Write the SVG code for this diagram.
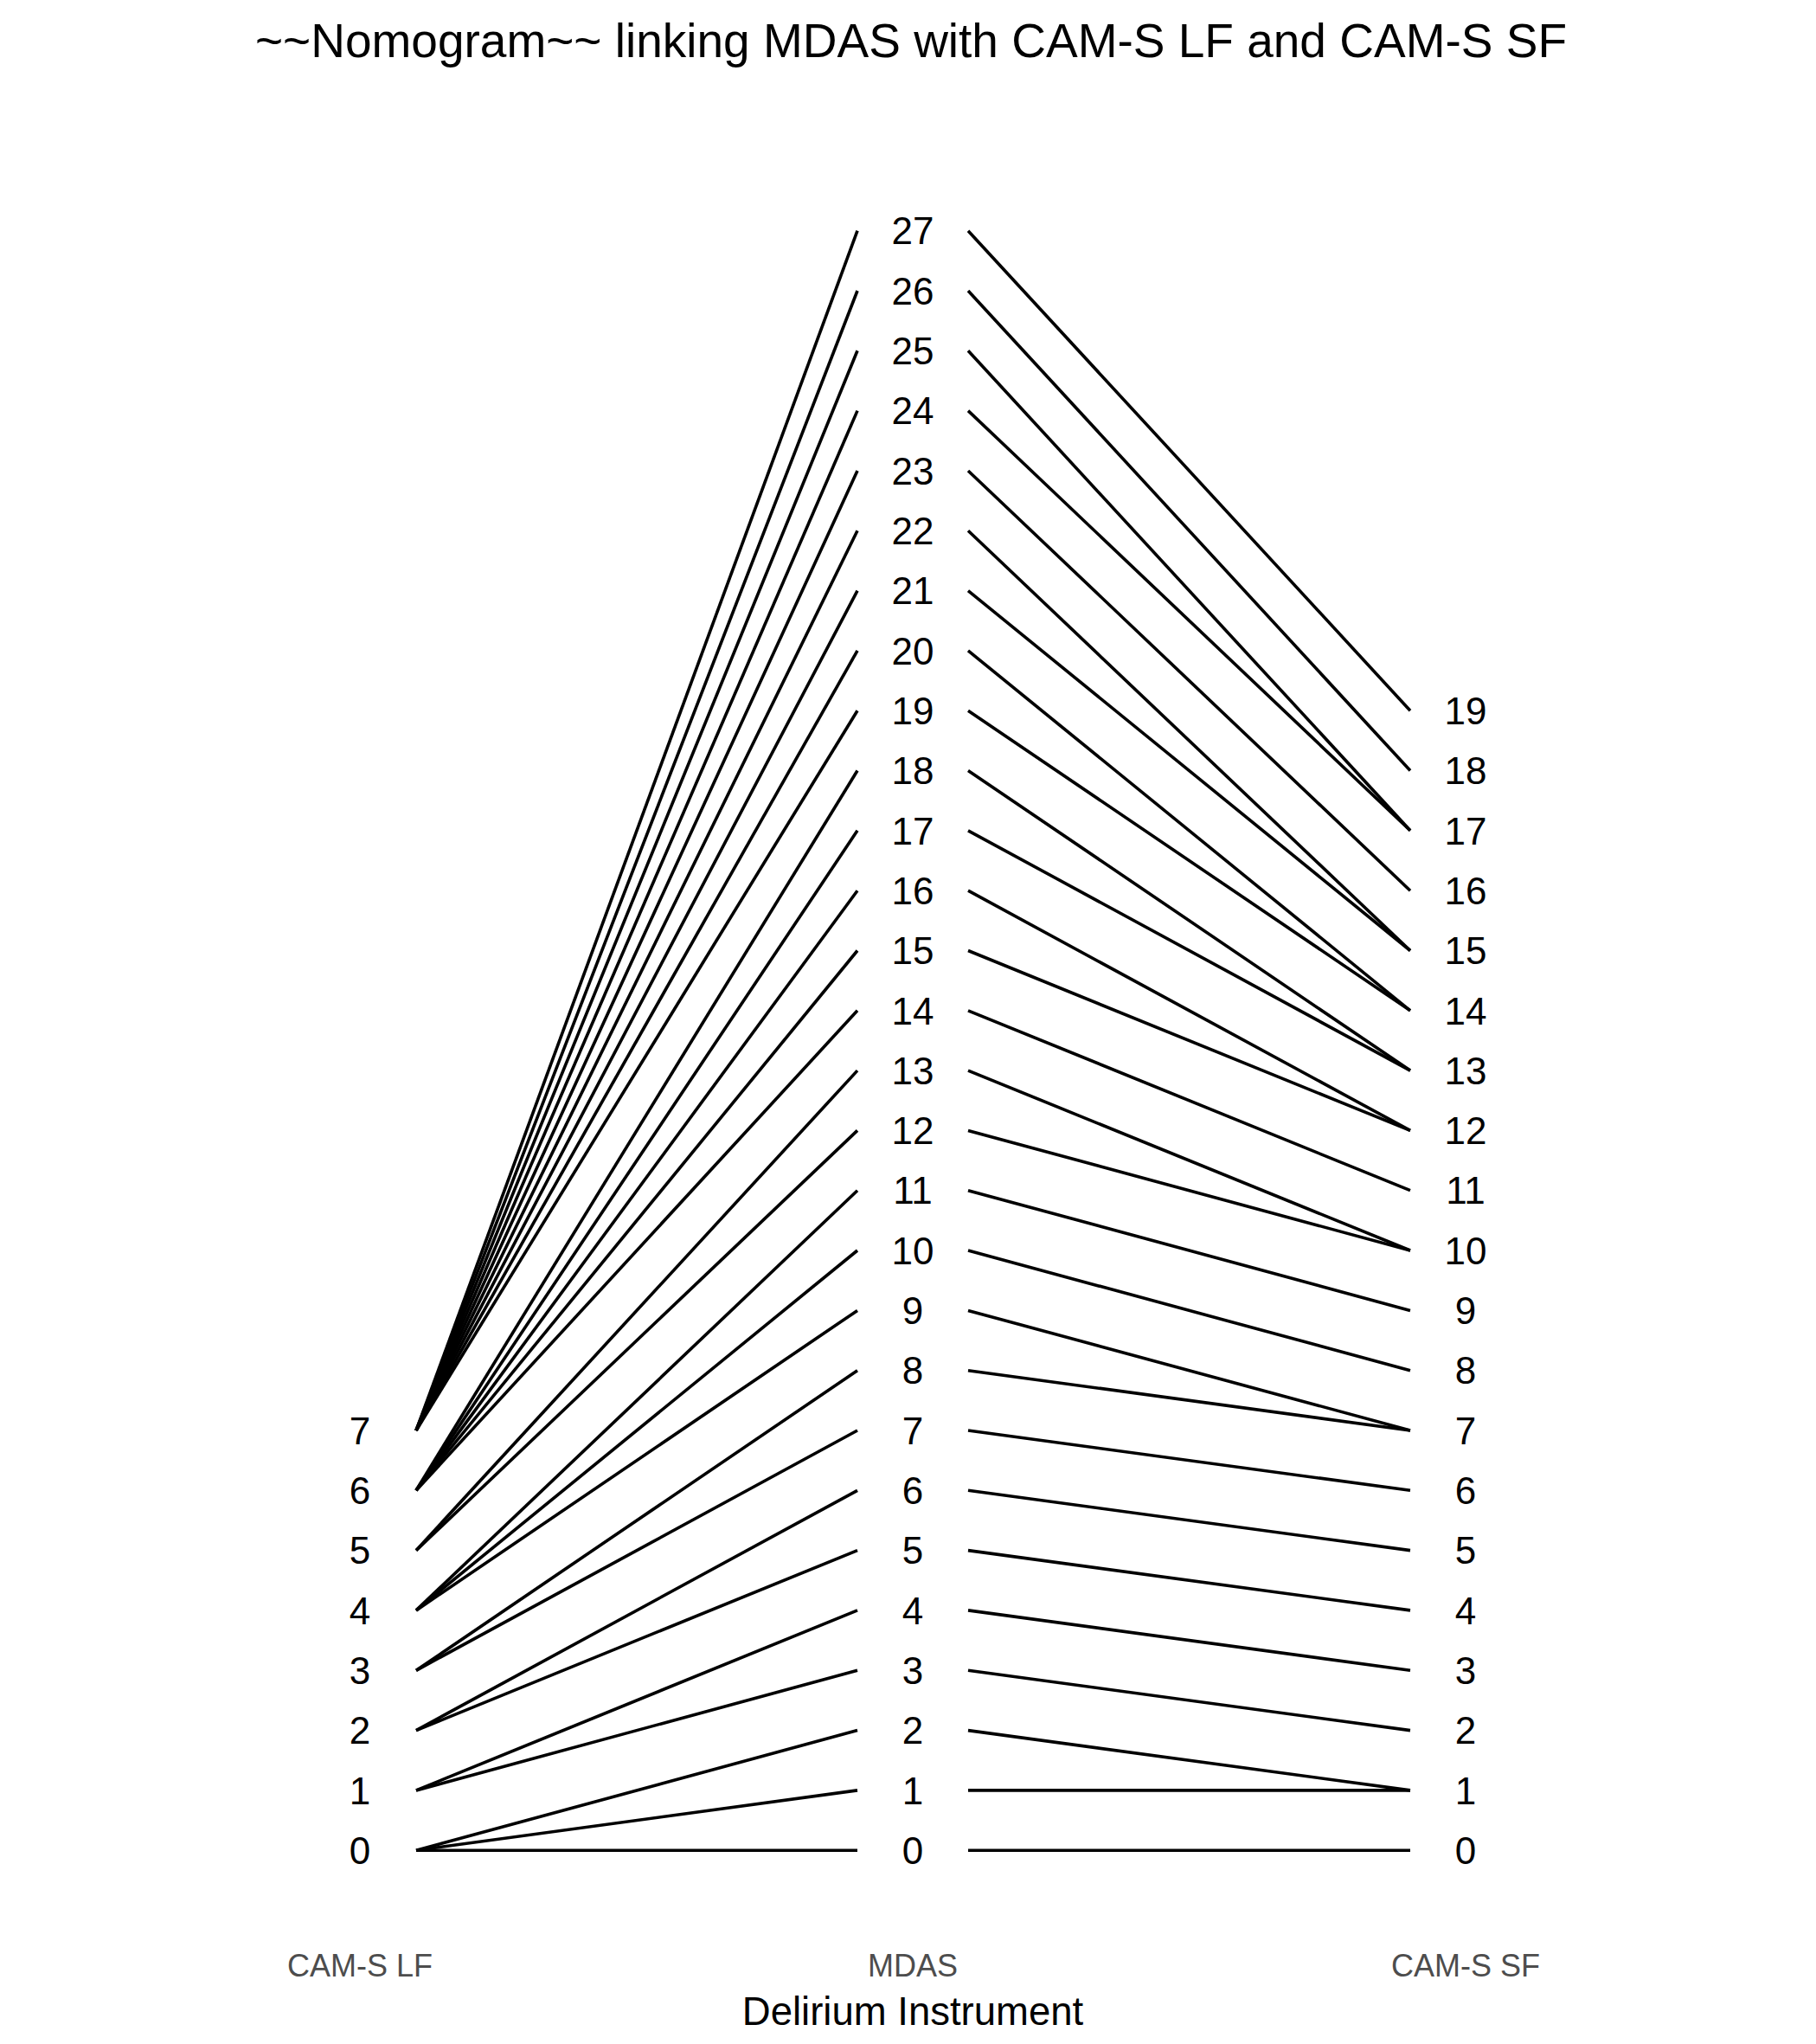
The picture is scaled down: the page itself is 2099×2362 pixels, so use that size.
<svg xmlns="http://www.w3.org/2000/svg" width="2099" height="2362" viewBox="0 0 2099 2362">
<style>
text{font-family:"Liberation Sans",Arial,sans-serif}
.title{font-size:55px;fill:#000;text-anchor:middle}
.tick{font-size:44px;fill:#000;text-anchor:middle}
.axis{font-size:36px;fill:#4D4D4D;text-anchor:middle}
.atitle{font-size:45.5px;fill:#000;text-anchor:middle}
#connectors line{stroke:#000;stroke-width:3.6;stroke-linecap:butt}
</style>
<rect width="2099" height="2362" fill="#fff"/>
<text class="title" x="1053" y="66">~~Nomogram~~ linking MDAS with CAM-S LF and CAM-S SF</text>
<g id="connectors">
<line x1="481" y1="2138.2" x2="991" y2="2138.2"/>
<line x1="481" y1="2138.2" x2="991" y2="2068.9"/>
<line x1="481" y1="2138.2" x2="991" y2="1999.6"/>
<line x1="481" y1="2068.9" x2="991" y2="1930.3"/>
<line x1="481" y1="2068.9" x2="991" y2="1860.9"/>
<line x1="481" y1="1999.6" x2="991" y2="1791.6"/>
<line x1="481" y1="1999.6" x2="991" y2="1722.3"/>
<line x1="481" y1="1930.3" x2="991" y2="1653.0"/>
<line x1="481" y1="1930.3" x2="991" y2="1583.7"/>
<line x1="481" y1="1860.9" x2="991" y2="1514.4"/>
<line x1="481" y1="1860.9" x2="991" y2="1445.0"/>
<line x1="481" y1="1860.9" x2="991" y2="1375.7"/>
<line x1="481" y1="1791.6" x2="991" y2="1306.4"/>
<line x1="481" y1="1791.6" x2="991" y2="1237.1"/>
<line x1="481" y1="1722.3" x2="991" y2="1167.8"/>
<line x1="481" y1="1722.3" x2="991" y2="1098.5"/>
<line x1="481" y1="1722.3" x2="991" y2="1029.2"/>
<line x1="481" y1="1722.3" x2="991" y2="959.8"/>
<line x1="481" y1="1722.3" x2="991" y2="890.5"/>
<line x1="481" y1="1653.0" x2="991" y2="821.2"/>
<line x1="481" y1="1653.0" x2="991" y2="751.9"/>
<line x1="481" y1="1653.0" x2="991" y2="682.6"/>
<line x1="481" y1="1653.0" x2="991" y2="613.3"/>
<line x1="481" y1="1653.0" x2="991" y2="544.0"/>
<line x1="481" y1="1653.0" x2="991" y2="474.6"/>
<line x1="481" y1="1653.0" x2="991" y2="405.3"/>
<line x1="481" y1="1653.0" x2="991" y2="336.0"/>
<line x1="481" y1="1653.0" x2="991" y2="266.7"/>
<line x1="1119" y1="2138.2" x2="1630" y2="2138.2"/>
<line x1="1119" y1="2068.9" x2="1630" y2="2068.9"/>
<line x1="1119" y1="1999.6" x2="1630" y2="2068.9"/>
<line x1="1119" y1="1930.3" x2="1630" y2="1999.6"/>
<line x1="1119" y1="1860.9" x2="1630" y2="1930.3"/>
<line x1="1119" y1="1791.6" x2="1630" y2="1860.9"/>
<line x1="1119" y1="1722.3" x2="1630" y2="1791.6"/>
<line x1="1119" y1="1653.0" x2="1630" y2="1722.3"/>
<line x1="1119" y1="1583.7" x2="1630" y2="1653.0"/>
<line x1="1119" y1="1514.4" x2="1630" y2="1653.0"/>
<line x1="1119" y1="1445.0" x2="1630" y2="1583.7"/>
<line x1="1119" y1="1375.7" x2="1630" y2="1514.4"/>
<line x1="1119" y1="1306.4" x2="1630" y2="1445.0"/>
<line x1="1119" y1="1237.1" x2="1630" y2="1445.0"/>
<line x1="1119" y1="1167.8" x2="1630" y2="1375.7"/>
<line x1="1119" y1="1098.5" x2="1630" y2="1306.4"/>
<line x1="1119" y1="1029.2" x2="1630" y2="1306.4"/>
<line x1="1119" y1="959.8" x2="1630" y2="1237.1"/>
<line x1="1119" y1="890.5" x2="1630" y2="1237.1"/>
<line x1="1119" y1="821.2" x2="1630" y2="1167.8"/>
<line x1="1119" y1="751.9" x2="1630" y2="1167.8"/>
<line x1="1119" y1="682.6" x2="1630" y2="1098.5"/>
<line x1="1119" y1="613.3" x2="1630" y2="1098.5"/>
<line x1="1119" y1="544.0" x2="1630" y2="1029.2"/>
<line x1="1119" y1="474.6" x2="1630" y2="959.8"/>
<line x1="1119" y1="405.3" x2="1630" y2="959.8"/>
<line x1="1119" y1="336.0" x2="1630" y2="890.5"/>
<line x1="1119" y1="266.7" x2="1630" y2="821.2"/>
</g>
<g id="lf-axis">
<g id="lf-0"><text class="tick" x="416" y="2153.9">0</text></g>
<g id="lf-1"><text class="tick" x="416" y="2084.6">1</text></g>
<g id="lf-2"><text class="tick" x="416" y="2015.3">2</text></g>
<g id="lf-3"><text class="tick" x="416" y="1946.0">3</text></g>
<g id="lf-4"><text class="tick" x="416" y="1876.6">4</text></g>
<g id="lf-5"><text class="tick" x="416" y="1807.3">5</text></g>
<g id="lf-6"><text class="tick" x="416" y="1738.0">6</text></g>
<g id="lf-7"><text class="tick" x="416" y="1668.7">7</text></g>
</g>
<g id="mdas-axis">
<g id="mdas-0"><text class="tick" x="1055" y="2153.9">0</text></g>
<g id="mdas-1"><text class="tick" x="1055" y="2084.6">1</text></g>
<g id="mdas-2"><text class="tick" x="1055" y="2015.3">2</text></g>
<g id="mdas-3"><text class="tick" x="1055" y="1946.0">3</text></g>
<g id="mdas-4"><text class="tick" x="1055" y="1876.6">4</text></g>
<g id="mdas-5"><text class="tick" x="1055" y="1807.3">5</text></g>
<g id="mdas-6"><text class="tick" x="1055" y="1738.0">6</text></g>
<g id="mdas-7"><text class="tick" x="1055" y="1668.7">7</text></g>
<g id="mdas-8"><text class="tick" x="1055" y="1599.4">8</text></g>
<g id="mdas-9"><text class="tick" x="1055" y="1530.1">9</text></g>
<g id="mdas-10"><text class="tick" x="1055" y="1460.7">10</text></g>
<g id="mdas-11"><text class="tick" x="1055" y="1391.4">11</text></g>
<g id="mdas-12"><text class="tick" x="1055" y="1322.1">12</text></g>
<g id="mdas-13"><text class="tick" x="1055" y="1252.8">13</text></g>
<g id="mdas-14"><text class="tick" x="1055" y="1183.5">14</text></g>
<g id="mdas-15"><text class="tick" x="1055" y="1114.2">15</text></g>
<g id="mdas-16"><text class="tick" x="1055" y="1044.9">16</text></g>
<g id="mdas-17"><text class="tick" x="1055" y="975.5">17</text></g>
<g id="mdas-18"><text class="tick" x="1055" y="906.2">18</text></g>
<g id="mdas-19"><text class="tick" x="1055" y="836.9">19</text></g>
<g id="mdas-20"><text class="tick" x="1055" y="767.6">20</text></g>
<g id="mdas-21"><text class="tick" x="1055" y="698.3">21</text></g>
<g id="mdas-22"><text class="tick" x="1055" y="629.0">22</text></g>
<g id="mdas-23"><text class="tick" x="1055" y="559.7">23</text></g>
<g id="mdas-24"><text class="tick" x="1055" y="490.3">24</text></g>
<g id="mdas-25"><text class="tick" x="1055" y="421.0">25</text></g>
<g id="mdas-26"><text class="tick" x="1055" y="351.7">26</text></g>
<g id="mdas-27"><text class="tick" x="1055" y="282.4">27</text></g>
</g>
<g id="sf-axis">
<g id="sf-0"><text class="tick" x="1694" y="2153.9">0</text></g>
<g id="sf-1"><text class="tick" x="1694" y="2084.6">1</text></g>
<g id="sf-2"><text class="tick" x="1694" y="2015.3">2</text></g>
<g id="sf-3"><text class="tick" x="1694" y="1946.0">3</text></g>
<g id="sf-4"><text class="tick" x="1694" y="1876.6">4</text></g>
<g id="sf-5"><text class="tick" x="1694" y="1807.3">5</text></g>
<g id="sf-6"><text class="tick" x="1694" y="1738.0">6</text></g>
<g id="sf-7"><text class="tick" x="1694" y="1668.7">7</text></g>
<g id="sf-8"><text class="tick" x="1694" y="1599.4">8</text></g>
<g id="sf-9"><text class="tick" x="1694" y="1530.1">9</text></g>
<g id="sf-10"><text class="tick" x="1694" y="1460.7">10</text></g>
<g id="sf-11"><text class="tick" x="1694" y="1391.4">11</text></g>
<g id="sf-12"><text class="tick" x="1694" y="1322.1">12</text></g>
<g id="sf-13"><text class="tick" x="1694" y="1252.8">13</text></g>
<g id="sf-14"><text class="tick" x="1694" y="1183.5">14</text></g>
<g id="sf-15"><text class="tick" x="1694" y="1114.2">15</text></g>
<g id="sf-16"><text class="tick" x="1694" y="1044.9">16</text></g>
<g id="sf-17"><text class="tick" x="1694" y="975.5">17</text></g>
<g id="sf-18"><text class="tick" x="1694" y="906.2">18</text></g>
<g id="sf-19"><text class="tick" x="1694" y="836.9">19</text></g>
</g>
<g id="axis-labels">
<text class="axis" x="416" y="2284">CAM-S LF</text>
<text class="axis" x="1055" y="2284">MDAS</text>
<text class="axis" x="1694" y="2284">CAM-S SF</text>
<text class="atitle" x="1055" y="2340">Delirium Instrument</text>
</g>
</svg>
